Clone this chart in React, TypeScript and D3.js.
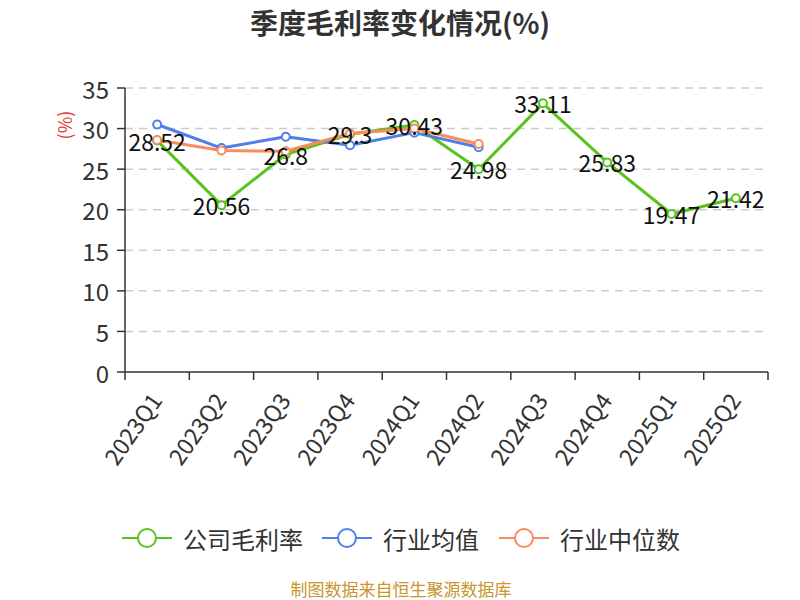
import * as d3 from 'd3';

const quarters = ['2023Q1', '2023Q2', '2023Q3', '2023Q4', '2024Q1', '2024Q2', '2024Q3', '2024Q4', '2025Q1', '2025Q2'];
const companyMargin = [28.52, 20.56, 26.8, 29.3, 30.43, 24.98, 33.11, 25.83, 19.47, 21.42];
const industryMean = [30.5, 27.6, 29.0, 27.95, 29.5, 27.7];
const industryMedian = [28.6, 27.3, 27.2, 29.4, 30.0, 28.1];
const yTicks = [0, 5, 10, 15, 20, 25, 30, 35];

const FONT = '"Noto Sans CJK SC", "Noto Sans", sans-serif';

const series = [
  { name: '公司毛利率', color: '#58c31d', values: companyMargin },
  { name: '行业均值', color: '#4f7fe6', values: industryMean },
  { name: '行业中位数', color: '#fa8c5c', values: industryMedian },
];

export default function App() {
  const width = 800;
  const height = 600;
  const left = 125;
  const right = 768;
  const top = 88;
  const bottom = 372;

  const x = d3.scaleBand<string>().domain(quarters).range([left, right]);
  const y = d3.scaleLinear().domain([0, 35]).range([bottom, top]);
  const cx = (i: number) => (x(quarters[i]) as number) + x.bandwidth() / 2;

  const line = d3.line<number>()
    .x((_, i) => cx(i))
    .y((d) => y(d));

  // legend layout
  const legendX = [122, 322, 499];

  return (
    <svg width={width} height={height} style={{ position: 'absolute', left: 0, top: 0, fontFamily: FONT }}>
      <rect width={width} height={height} fill="#fff" />
      <text x={400} y={22} textAnchor="middle" dominantBaseline="central" fontSize={28} fontWeight="bold" fill="#333">
        季度毛利率变化情况(%)
      </text>

      {/* grid */}
      {yTicks.filter((t) => t > 0).map((t) => (
        <line key={t} x1={left} x2={right} y1={y(t)} y2={y(t)} stroke="#cccccc" strokeWidth={1.5} strokeDasharray="8,6" />
      ))}

      {/* y axis */}
      <line x1={left} x2={left} y1={top} y2={bottom} stroke="#333" strokeWidth={1.5} />
      {yTicks.map((t) => (
        <g key={t}>
          <line x1={left - 8} x2={left} y1={y(t)} y2={y(t)} stroke="#333" strokeWidth={1.5} />
          <text x={left - 16} y={y(t)} textAnchor="end" dominantBaseline="central" fontSize={24} fill="#333">{t}</text>
        </g>
      ))}
      <text transform={`translate(64,125) rotate(-90)`} textAnchor="middle" dominantBaseline="central" fontSize={18} fill="#e4393c">(%)</text>

      {/* x axis */}
      <line x1={left} x2={right} y1={bottom} y2={bottom} stroke="#333" strokeWidth={1.5} />
      {quarters.map((q) => (
        <line key={q} x1={x(q) as number} x2={x(q) as number} y1={bottom} y2={bottom + 8} stroke="#333" strokeWidth={1.5} />
      ))}
      <line x1={right} x2={right} y1={bottom} y2={bottom + 8} stroke="#333" strokeWidth={1.5} />
      {quarters.map((q, i) => (
        <text key={q} transform={`translate(${cx(i) - 2},${bottom + 23}) rotate(-55)`} textAnchor="end" dominantBaseline="central" fontSize={23} fill="#333">
          {q}
        </text>
      ))}

      {/* lines */}
      {series.map((s) => (
        <g key={s.name}>
          <path d={line(s.values) as string} fill="none" stroke={s.color} strokeWidth={3} strokeLinejoin="round" />
          {s.values.map((v, i) => (
            <circle key={i} cx={cx(i)} cy={y(v)} r={4} fill="#fff" stroke={s.color} strokeWidth={2} />
          ))}
        </g>
      ))}

      {/* data labels */}
      {companyMargin.map((v, i) => (
        <text key={i} x={cx(i)} y={y(v)} textAnchor="middle" dominantBaseline="central" fontSize={23} fill="#111">
          {v}
        </text>
      ))}

      {/* legend */}
      {series.map((s, i) => (
        <g key={s.name} transform={`translate(${legendX[i]},538)`}>
          <line x1={0} x2={50} y1={0} y2={0} stroke={s.color} strokeWidth={2} />
          <circle cx={25} cy={0} r={9} fill="#fff" stroke={s.color} strokeWidth={2} />
          <text x={61} y={0} dominantBaseline="central" fontSize={24} fill="#333">{s.name}</text>
        </g>
      ))}

      <text x={401} y={588} textAnchor="middle" dominantBaseline="central" fontSize={17} fill="#c8952c">
        制图数据来自恒生聚源数据库
      </text>
    </svg>
  );
}
